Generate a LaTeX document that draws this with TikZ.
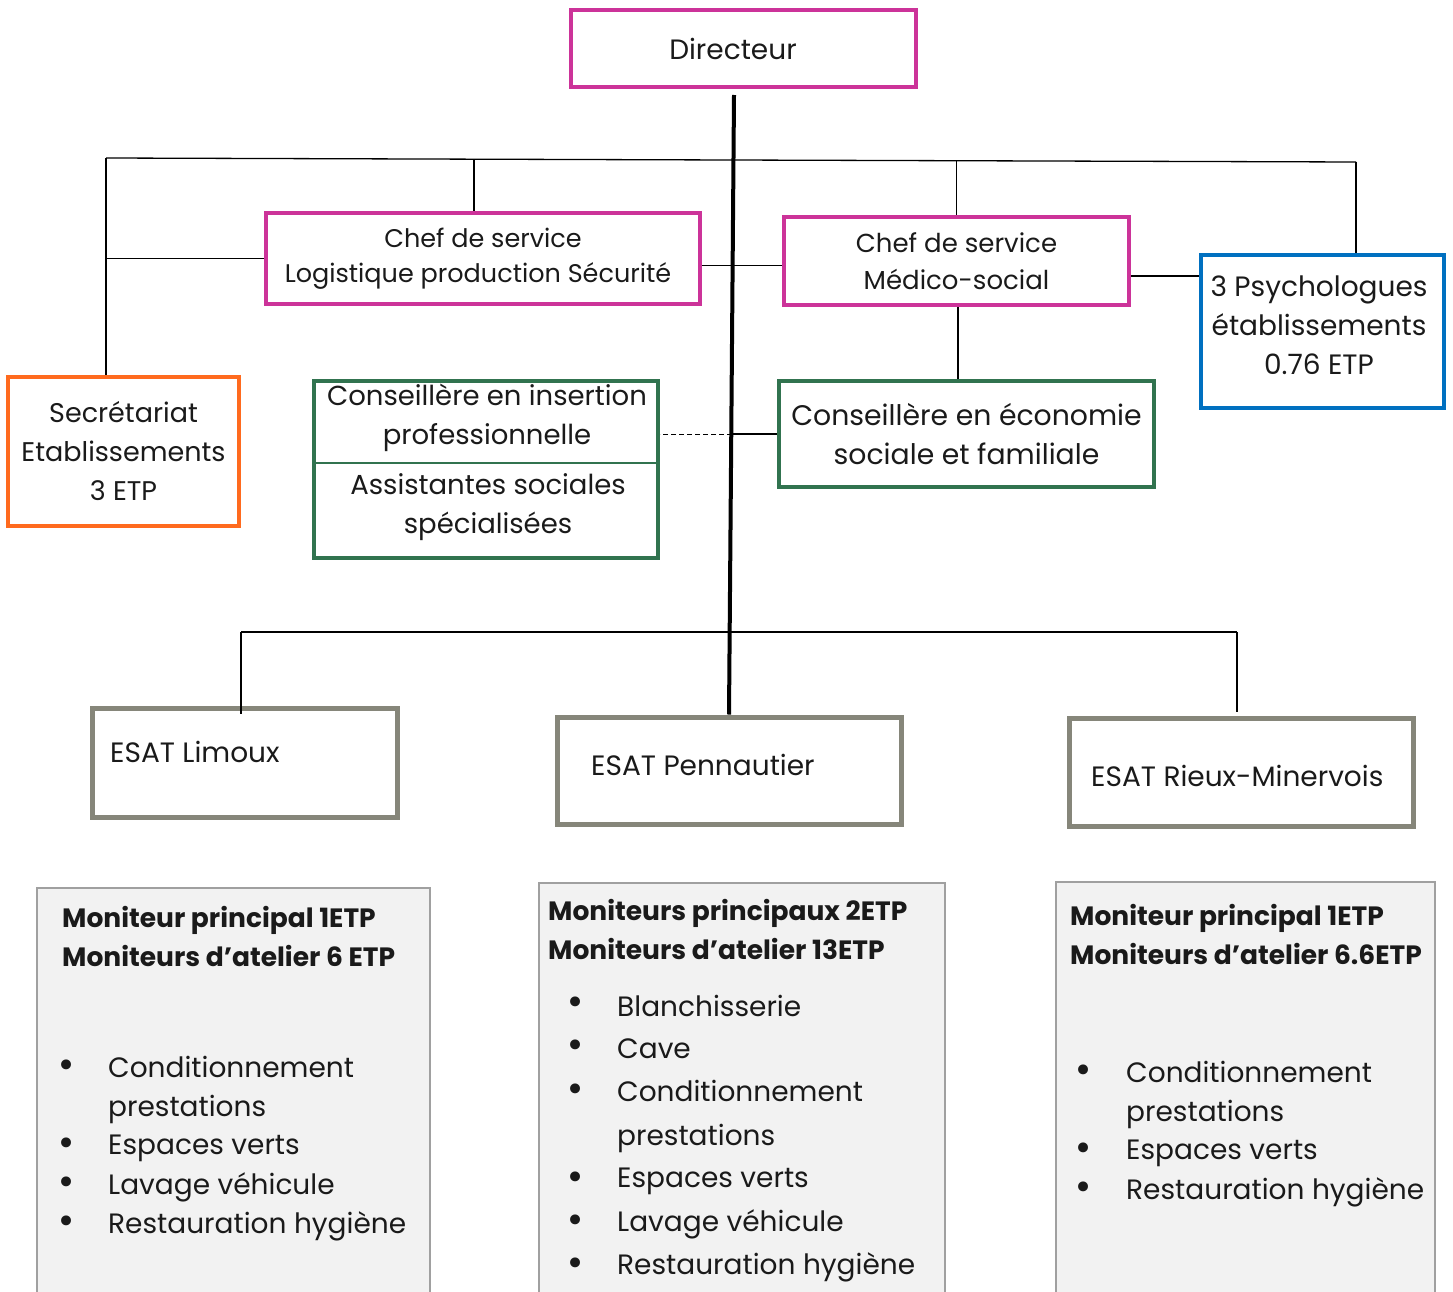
\documentclass[tikz,border=0pt]{standalone}
\usepackage{fontspec}
\setmainfont{Poppins}
\newfontfamily\bulfont{DejaVu Sans}
\usetikzlibrary{calc}
\definecolor{pinkc}{HTML}{CC3399}
\definecolor{bluec}{HTML}{0070C0}
\definecolor{orangec}{HTML}{FF6A1E}
\definecolor{greenc}{HTML}{31734F}
\definecolor{grayc}{HTML}{86867A}
\definecolor{lgray}{HTML}{A0A0A0}
\definecolor{fillc}{HTML}{F2F2F2}
\definecolor{txt}{HTML}{1A1A1A}
\newcommand{\fs}[2]{\fontsize{#1}{#2}\selectfont}
\begin{document}
\begin{tikzpicture}[x=1pt,y=-1pt,
  every node/.style={text=txt},
  box/.style={draw, line width=4pt, rectangle, inner sep=0pt, align=center},
  pinkbox/.style={box, draw=pinkc},
  esat/.style={draw=grayc, line width=5pt, rectangle, inner sep=0pt},
  wire/.style={line width=1.3pt, black},
  thickwire/.style={line width=4pt, black},
  ctext/.style={inner sep=0pt, align=center},
  lbl/.style={anchor=west, inner sep=0pt, align=left},
  item/.style={lbl, font=\fs{28}{39}},
  mitem/.style={lbl, font=\fs{28}{44}},
  head/.style={lbl, font=\fs{26.5}{39}\bfseries},
  bul/.style={inner sep=0pt, font=\bulfont\fs{34}{36}},
]
\clip (0,0) rectangle (1453,1292);
\fill[white] (0,0) rectangle (1453,1292);

% top boxes
\node[pinkbox, minimum width=345pt, minimum height=77pt] (dir) at (743.5,48.5) {};
\node[ctext, font=\fs{28}{32}] (dirT) at (733,49) {Directeur};
\node[pinkbox, minimum width=434pt, minimum height=91pt, font=\fs{25.5}{35}] (log) at (483,258.5) {Chef de service\\Logistique production Sécurité\hspace*{10pt}};
\node[pinkbox, minimum width=345pt, minimum height=88pt, font=\fs{26}{37}] (med) at (956.5,261) {Chef de service\\Médico-social};
\node[box, draw=bluec, minimum width=243pt, minimum height=153pt] (psy) at (1322.5,331.5) {};
\node[ctext, font=\fs{28}{39}] (psyT) at (1319,325.5) {3 Psychologues\\établissements\\0.76 ETP};
\node[box, draw=orangec, minimum width=231pt, minimum height=149pt, font=\fs{27}{39}] (sec) at (123.5,451.5) {Secrétariat\\Etablissements\\3 ETP};
\node[box, draw=greenc, minimum width=344pt, minimum height=177pt] (ins) at (486,469.5) {};
\draw[greenc, line width=2.5pt] (ins.west |- 0,463) -- (ins.east |- 0,463);
\node[ctext, font=\fs{27.5}{39}] (insA) at (487,418) {Conseillère en insertion\\professionnelle};
\node[ctext, font=\fs{27.5}{39}] (insB) at (488,507) {Assistantes sociales\\spécialisées};
\node[box, draw=greenc, minimum width=375pt, minimum height=106pt, font=\fs{28.3}{39}] (esf) at (966.5,434) {Conseillère en économie\\sociale et familiale};

% ESAT boxes
\node[esat, minimum width=305pt, minimum height=109pt] (lim) at (244.5,762.5) {};
\node[esat, minimum width=344pt, minimum height=107pt] (pen) at (729,770.5) {};
\node[esat, minimum width=344pt, minimum height=108pt] (rie) at (1241,772) {};
\node[lbl, font=\fs{28}{32}] (limT) at (110,752) {ESAT Limoux};
\node[lbl, font=\fs{28}{32}] (penT) at (591,765) {ESAT Pennautier};
\node[lbl, font=\fs{28}{32}] (rieT) at (1091,776) {ESAT Rieux-Minervois};

% connectors top
\coordinate (busL) at (106,158);
\coordinate (busR) at (1356,162);
\draw[thickwire] (pen.north) -- ($(pen.north |- dir.south)+(5,6)$);
\draw[wire] (busL) -- (busR);
\draw[wire] (busL) -- (busL |- sec.north);
\draw[wire] (busL |- log.west) -- (log.west);
\draw[wire] ($(log.north)+(-9,0)$) -- ($(log.north |- busL)+(-9,2)$);
\draw[wire] (med.north) -- ($(med.north |- busL)+(0,3)$);
\draw[wire] (busR) -- (busR |- psy.north);
\draw[wire] ($(log.east)+(0,7)$) -- ($(log.east -| med.west)+(0,7)$);
\draw[wire] ($(med.east)+(0,15)$) -- ($(med.east -| psy.west)+(0,15)$);
\draw[wire] ($(med.south)+(1.5,0)$) -- ($(med.south |- esf.north)+(1.5,0)$);
\draw[wire] (esf.west) -- ($(esf.west -| pen.north)+(3,0)$);
\draw[line width=1pt, black, dash pattern=on 5pt off 3pt] ($(esf.west -| pen.north)+(3,0)$) -- (esf.west -| ins.east);

% ESAT bus
\coordinate (ebusL) at (241,632);
\coordinate (ebusR) at (1237,632);
\draw[wire] (ebusL) -- (ebusR);
\draw[wire] (ebusL) -- ($(ebusL |- lim.north)+(0,8)$);
\draw[wire] (ebusR) -- ($(ebusR |- rie.north)+(0,-4)$);

% bottom boxes
\draw[lgray, fill=fillc, line width=2pt] (37,1310) -- (37,888) -- (430,888) -- (430,1310);
\draw[lgray, fill=fillc, line width=2pt] (539,1310) -- (539,883) -- (945,883) -- (945,1310);
\draw[lgray, fill=fillc, line width=2pt] (1056,1310) -- (1056,882) -- (1435,882) -- (1435,1310);

% left list
\node[head] (lh) at (62,936.5) {Moniteur principal 1ETP\\Moniteurs d’atelier 6 ETP};
\node[bul] (lb1) at (67,1069) {•};
\node[bul] (lb2) at (67,1147) {•};
\node[bul] (lb3) at (67,1186) {•};
\node[bul] (lb4) at (67,1225) {•};
\node[item] (lt1) at (108,1090) {Conditionnement\\prestations};
\node[item] (lt2) at (108,1148) {Espaces verts};
\node[item] (lt3) at (108,1187) {Lavage véhicule};
\node[item] (lt4) at (108,1226) {Restauration hygiène};

% middle list
\node[head] (mh) at (548,929.5) {Moniteurs principaux 2ETP\\Moniteurs d’atelier 13ETP};
\node[bul] (mb1) at (576,1006) {•};
\node[bul] (mb2) at (576,1049) {•};
\node[bul] (mb3) at (576,1093) {•};
\node[bul] (mb4) at (576,1181) {•};
\node[bul] (mb5) at (576,1224) {•};
\node[bul] (mb6) at (576,1267) {•};
\node[mitem] (mt1) at (617,1006) {Blanchisserie};
\node[mitem] (mt2) at (617,1049) {Cave};
\node[mitem] (mt3) at (617,1116) {Conditionnement\\prestations};
\node[mitem] (mt4) at (617,1181) {Espaces verts};
\node[mitem] (mt5) at (617,1224) {Lavage véhicule};
\node[mitem] (mt6) at (617,1267) {Restauration hygiène};

% right list
\node[head] (rh) at (1070,934) {Moniteur principal 1ETP\\Moniteurs d’atelier 6.6ETP};
\node[bul] (rb1) at (1084,1074) {•};
\node[bul] (rb2) at (1084,1152) {•};
\node[bul] (rb3) at (1084,1191) {•};
\node[item] (rt1) at (1126,1095) {Conditionnement\\prestations};
\node[item] (rt2) at (1126,1153) {Espaces verts};
\node[item] (rt3) at (1126,1192) {Restauration hygiène};
\end{tikzpicture}
\end{document}
